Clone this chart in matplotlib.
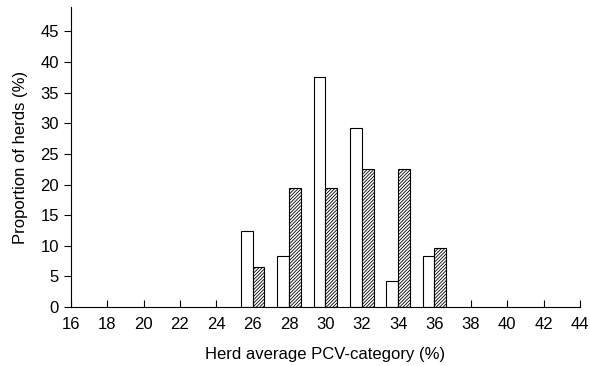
import numpy as np
import matplotlib.pyplot as plt

plt.rcParams['font.family'] = ['Liberation Sans', 'DejaVu Sans']
plt.rcParams['hatch.linewidth'] = 0.6

# PCV categories and proportion of herds (%) in each
categories = [26, 28, 30, 32, 34, 36]
open_bars = [12.5, 8.3, 37.5, 29.2, 4.2, 8.3]
hatched_bars = [6.5, 19.4, 19.4, 22.6, 22.6, 9.7]
xticks = list(range(16, 45, 2))
yticks = list(range(0, 46, 5))

fig = plt.figure(figsize=(5.9, 3.66), dpi=100)
ax = fig.add_axes([0.12, 0.161, 0.863, 0.82])

w = 0.65
x = np.array(categories)
ax.bar(x - w / 2, open_bars, width=w, color='white', edgecolor='black', linewidth=0.8)
ax.bar(x + w / 2, hatched_bars, width=w, color='white', edgecolor='black',
       hatch='//////////', linewidth=0.8)

ax.set_xlim(16, 44)
ax.set_ylim(0, 49)
ax.set_xticks(xticks)
ax.set_yticks(yticks)
ax.tick_params(axis='x', direction='in', length=5, labelsize=12, pad=7)
ax.tick_params(axis='y', direction='out', length=5, labelsize=12)
ax.spines['top'].set_visible(False)
ax.spines['right'].set_visible(False)
ax.set_xlabel('Herd average PCV-category (%)', fontsize=12, labelpad=11)
ax.set_ylabel('Proportion of herds (%)', fontsize=12, labelpad=9)

plt.savefig('out.png', dpi=100)
